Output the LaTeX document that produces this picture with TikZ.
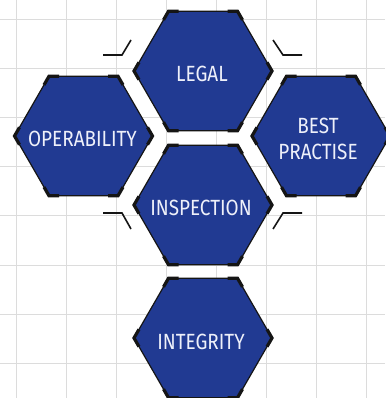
\documentclass[tikz,border=0pt]{standalone}
\usepackage{fontspec}
\setmainfont[FakeStretch=0.86]{Fira Sans}
\usetikzlibrary{shapes.geometric,calc}
\definecolor{hexblue}{HTML}{213A92}
\definecolor{hexedge}{HTML}{151515}
\definecolor{gridgray}{HTML}{DCDCDC}
\definecolor{hextext}{HTML}{EEF0FA}

\begin{document}
\begin{tikzpicture}[x=1pt, y=-1pt]
\tikzstyle{hexa} = [regular polygon, regular polygon sides=6, minimum size=138pt, inner sep=0pt, outer sep=0pt, fill=hexblue, draw=hexedge, line width=1.2pt]
\tikzstyle{hexlabel} = [text=hextext, font=\fontsize{22}{26}\selectfont, align=center, inner sep=0pt]
\tikzstyle{cornermark} = [draw=hexedge, line width=3.2pt]
\tikzstyle{bracket} = [draw=hexedge, line width=1.6pt]
\useasboundingbox (0,0) rectangle (385,398);
\fill[white] (0,0) rectangle (385,398);
% grid
\foreach \k in {0,...,7} {
  \draw[gridgray, line width=0.9pt] ({16+50.1*\k},0) -- ({16+50.1*\k},398);
  \draw[gridgray, line width=0.9pt] (0,{19+49.2*\k}) -- (385,{19+49.2*\k});
}
% hexagons
\node[hexa] (legal) at (203, 71) {};
\node[hexa] (oper) at (83.5, 136) {};
\node[hexa] (best) at (321, 136) {};
\node[hexa] (insp) at (203, 205) {};
\node[hexa] (integ) at (203, 338) {};
% thick corners
\foreach \n in {legal,oper,best,insp,integ} {
  \foreach \c in {1,...,6} {
    \pgfmathtruncatemacro{\cprev}{mod(\c+4,6)+1}
    \pgfmathtruncatemacro{\cnext}{mod(\c,6)+1}
    \draw[cornermark] ($(\n.corner \c)!10pt!(\n.corner \cprev)$) -- (\n.corner \c) -- ($(\n.corner \c)!10pt!(\n.corner \cnext)$);
  }
}
% labels
\node[hexlabel] (legal-label) at ($(legal)+(-1,3)$) {LEGAL};
\node[hexlabel] (oper-label) at ($(oper)+(-1,3)$) {OPERABILITY};
\node[hexlabel] (best-label) at ($(best)+(-3,2.5)$) {BEST\\PRACTISE};
\node[hexlabel] (insp-label) at ($(insp)+(-2,3)$) {INSPECTION};
\node[hexlabel] (integ-label) at ($(integ)+(-2,4)$) {INTEGRITY};
% brackets
\draw[bracket] (103,55) -- (122,55) -- (131,40);
\draw[bracket] (302,55) -- (283,55) -- (273,40);
\draw[bracket] (103,213) -- (122,213) -- (131,229);
\draw[bracket] (302,213) -- (283,213) -- (273,229);
\end{tikzpicture}
\end{document}
